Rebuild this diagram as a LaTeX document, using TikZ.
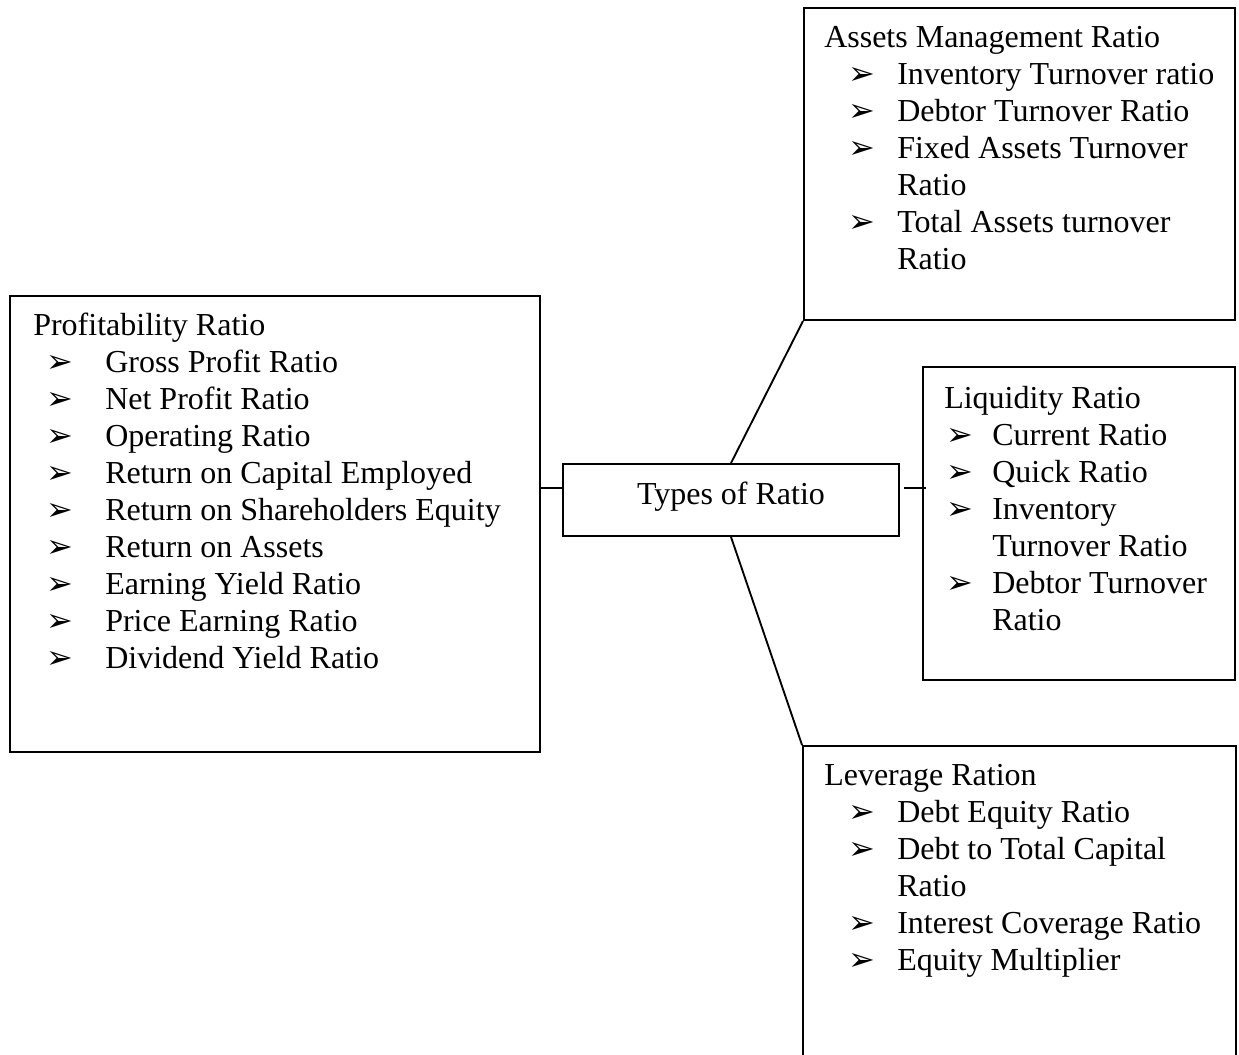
\documentclass[tikz,border=0pt]{standalone}
\usepackage{fontspec}
\setmainfont{Liberation Serif}
\newfontfamily\dingfont{DejaVu Sans}
\usetikzlibrary{fit}
% arrowhead bullet used in every list
\newcommand\arrowhd{{\dingfont\fontsize{24}{24}\selectfont ➢}}

\begin{document}
\begin{tikzpicture}[x=0.75pt,y=-0.75pt,
  box/.style={draw, line width=1.4pt, inner sep=0pt},
  txt/.style={anchor=base west, inner sep=0pt, font=\fontsize{24}{27.75}\selectfont},
  bulletnode/.style={anchor=base west, inner sep=0pt},
  link/.style={line width=1.4pt}]
\useasboundingbox (0,0) rectangle (1239,1054);
\clip (0,0) rectangle (1239,1054);

% ---- frames ----
\node[box, fit={(10,296) (540,752)}] (prof) {};
\node[box, fit={(804,8) (1235,320)}] (assets) {};
\node[box, fit={(923,367) (1235,680)}] (liq) {};
\node[box, fit={(803,746) (1236,1080)}] (lev) {};
\node[box, fit={(563,464) (899,536)}] (types) {};
\node[txt, anchor=base] (typeslbl) at (731,504) {Types of Ratio};

% ---- connectors ----
\coordinate (hy) at (0,488);
\draw[link] (prof.east |- hy) -- (types.west |- hy);
\draw[link] ([xshift=3pt]types.east |- hy) -- ([xshift=3pt]liq.west |- hy);
\draw[link] (types.north) -- (assets.south west);
\draw[link] (types.south) -- (lev.north west);

% ---- Profitability Ratio ----
\node[txt] (profhead) at (33,335) {Profitability Ratio};
\foreach \t [count=\i] in {Gross Profit Ratio, Net Profit Ratio, Operating Ratio,
    Return on Capital Employed, Return on Shareholders Equity, Return on Assets,
    Earning Yield Ratio, Price Earning Ratio, Dividend Yield Ratio}{
  \node[bulletnode] (profb\i) at (46,335+37*\i) {\arrowhd};
  \node[txt] (proft\i) at (105,335+37*\i) {\t};
}

% ---- Assets Management Ratio ----
\node[txt] (assetshead) at (824,47) {Assets Management Ratio};
\foreach \b/\t [count=\i] in {1/Inventory Turnover ratio, 1/Debtor Turnover Ratio,
    1/Fixed Assets Turnover, 0/Ratio, 1/Total Assets turnover, 0/Ratio}{
  \ifnum\b=1 \node[bulletnode] (assetsb\i) at (848,47+37*\i) {\arrowhd}; \fi
  \node[txt] (assetst\i) at (897,47+37*\i) {\t};
}

% ---- Liquidity Ratio ----
\node[txt] (liqhead) at (944,408) {Liquidity Ratio};
\foreach \b/\t [count=\i] in {1/Current Ratio, 1/Quick Ratio, 1/Inventory,
    0/Turnover Ratio, 1/Debtor Turnover, 0/Ratio}{
  \ifnum\b=1 \node[bulletnode] (liqb\i) at (946,408+37*\i) {\arrowhd}; \fi
  \node[txt] (liqt\i) at (992,408+37*\i) {\t};
}

% ---- Leverage Ration ----
\node[txt] (levhead) at (824,785) {Leverage Ration};
\foreach \b/\t [count=\i] in {1/Debt Equity Ratio, 1/Debt to Total Capital, 0/Ratio,
    1/Interest Coverage Ratio, 1/Equity Multiplier}{
  \ifnum\b=1 \node[bulletnode] (levb\i) at (848,785+37*\i) {\arrowhd}; \fi
  \node[txt] (levt\i) at (897,785+37*\i) {\t};
}
\end{tikzpicture}
\end{document}
